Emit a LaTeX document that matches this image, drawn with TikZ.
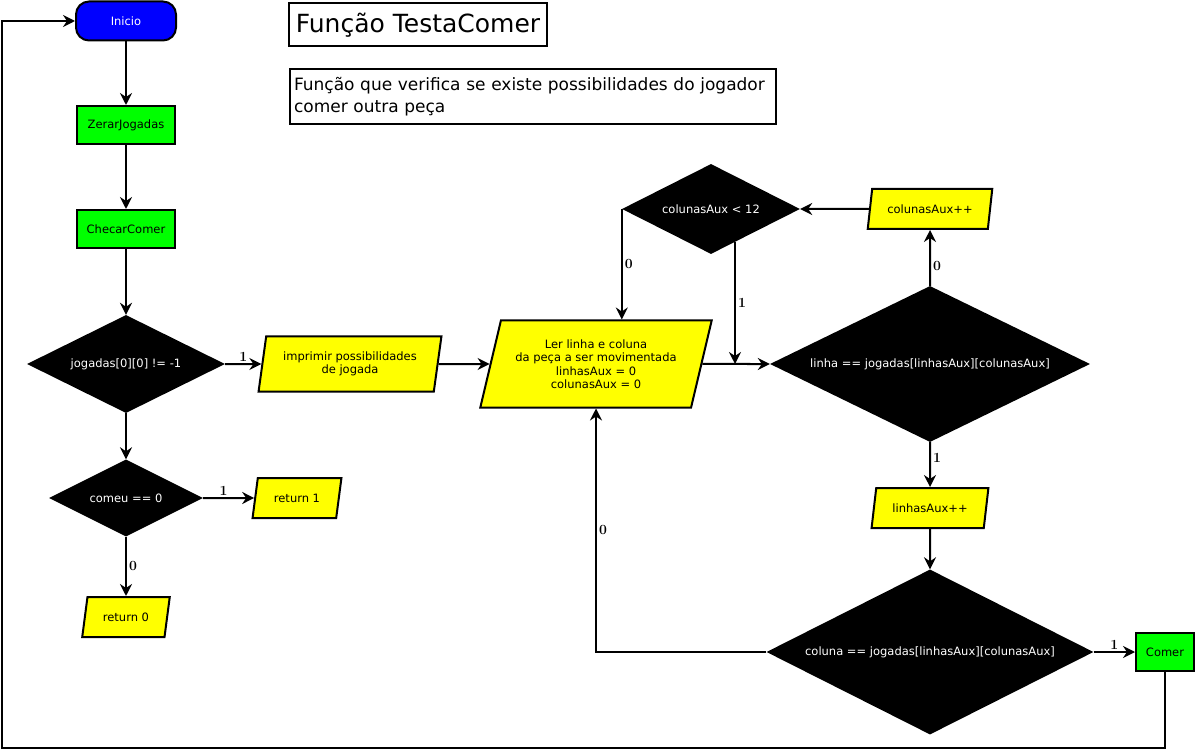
\documentclass[tikz,border=0pt]{standalone}
\usepackage{fontspec}
\newfontfamily\boxfont{DejaVu Sans}
\usepackage{tikz}
\usetikzlibrary{
  arrows.meta,
  positioning,
  shapes.geometric,
  calc
}
\definecolor{StartBlue}{RGB}{0,0,255}
\definecolor{ProcGreen}{RGB}{0,255,0}
\definecolor{IoYellow}{RGB}{255,255,0}
\tikzset{
  startnode/.style={draw=black,fill=StartBlue,rounded corners=13pt,line width=2pt,minimum width=100pt,minimum height=39pt,text=white,font=\boxfont\fontsize{11.5}{13}\selectfont},
  procnode/.style={draw=black,fill=ProcGreen,line width=2pt,minimum width=98pt,minimum height=38pt,font=\boxfont\fontsize{11.5}{13}\selectfont},
  ionode/.style={trapezium,trapezium left angle=73,trapezium right angle=107,trapezium stretches=true,draw=black,fill=IoYellow,line width=2pt,align=center,inner sep=1pt,font=\boxfont\fontsize{11.5}{13.5}\selectfont},
  decision/.style={diamond,aspect=2,fill=black,text=white,inner sep=0pt,align=center,font=\boxfont\fontsize{11.5}{13}\selectfont},
  textbox/.style={draw=black,line width=2pt,fill=white},
  flow/.style={-{Stealth[length=12pt,width=12pt,inset=4pt]},line width=2pt},
  branch/.style={font=\bfseries\fontsize{14}{16}\selectfont,inner sep=2pt}
}

\begin{document}
\begin{tikzpicture}[x=1pt,y=-1pt]
\useasboundingbox[fill=white] (0,0) rectangle (1197,751);

% cabecalho
\node[textbox,minimum width=258pt,minimum height=43pt,font=\boxfont\fontsize{25}{28}\selectfont] (titulo) at (418,25) {Função TestaComer};
\node[textbox,anchor=north west,text width=478pt,inner xsep=4pt,minimum height=55pt,align=left,font=\boxfont\fontsize{17}{22}\selectfont] (descr) at (289,68) {Função que verifica se existe possibilidades do jogador\\comer outra peça};

% coluna da esquerda
\node[startnode] (inicio) at (126,21) {Inicio};
\node[procnode] (zerar) at (126,125) {ZerarJogadas};
\node[procnode] (checar) at (126,229) {ChecarComer};
\node[decision,minimum width=198pt,minimum height=98pt] (jogadas) at (126,364) {jogadas[0][0] != -1};
\node[decision,minimum width=154pt,minimum height=77pt] (comeu) at (126,498) {comeu == 0};
\node[ionode,minimum width=89pt,minimum height=40pt] (ret1) at (297,498) {return 1};
\node[ionode,minimum width=88pt,minimum height=40pt] (ret0) at (126,617) {return 0};
\node[ionode,trapezium left angle=77,trapezium right angle=103,minimum width=183pt,minimum height=55pt] (imprimir) at (350,364) {imprimir possibilidades\\de jogada};

% leitura e lacos
\node[ionode,trapezium left angle=71,trapezium right angle=109,minimum width=232pt,minimum height=87pt] (ler) at (596,364) {Ler linha e coluna\\da peça a ser movimentada\\linhasAux = 0\\colunasAux = 0};
\node[decision,minimum width=178pt,minimum height=90pt] (cond12) at (711,209) {colunasAux < 12};
\node[ionode,minimum width=125pt,minimum height=40pt] (colinc) at (930,209) {colunasAux++};
\node[decision,minimum width=320pt,minimum height=156pt] (linha) at (930,364) {linha == jogadas[linhasAux][colunasAux]};
\node[ionode,minimum width=117pt,minimum height=40pt] (lininc) at (930,508) {linhasAux++};
\node[decision,minimum width=327pt,minimum height=165pt] (coluna) at (930,652) {coluna == jogadas[linhasAux][colunasAux]};
\node[procnode,minimum width=58pt] (comer) at (1165,652) {Comer};

\coordinate (c12out) at (cond12.-54);
\coordinate (loopbr) at (1165,748);
\coordinate (loopbl) at (2,748);

\draw[flow] (inicio) -- (zerar);
\draw[flow] (zerar) -- (checar);
\draw[flow] (checar) -- (jogadas);
\draw[flow] (jogadas.east) -- node[branch,above] {1} (imprimir);
\draw[flow] (jogadas) -- (comeu);
\draw[flow] (comeu.east) -- node[branch,above,pos=0.4] {1} (ret1);
\draw[flow] (comeu) -- node[branch,right] {0} (ret0);
\draw[flow] (imprimir) -- (ler);
\draw[flow] (ler.east) -- (linha.west);
\draw[flow] (cond12.west) -- node[branch,right] {0} (cond12.west |- ler.north);
\draw[flow] (c12out) -- node[branch,right] {1} (c12out |- ler.east);
\draw[flow] (linha.north) -- node[branch,right,pos=0.35] {0} (colinc);
\draw[flow] (colinc) -- (cond12.east);
\draw[flow] (linha.south) -- node[branch,right,pos=0.35] {1} (lininc);
\draw[flow] (lininc) -- (coluna.north);
\draw[flow] (coluna.west) -| node[branch,right,pos=0.75] {0} (ler.center |- ler.south);
\draw[flow] (coluna.east) -- node[branch,above] {1} (comer);
\draw[flow] (comer.south) -- (loopbr) -- (loopbl) |- (inicio.west);
\end{tikzpicture}
\end{document}
